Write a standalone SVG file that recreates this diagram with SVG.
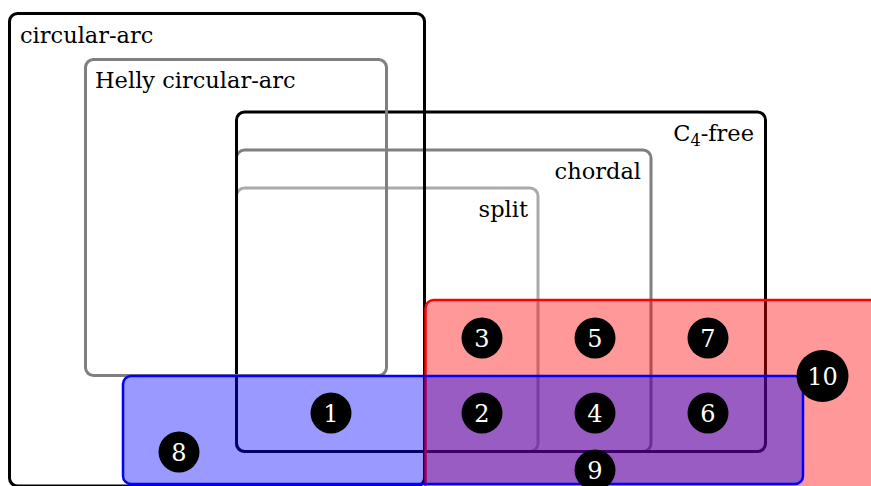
<svg xmlns="http://www.w3.org/2000/svg" width="871" height="486" viewBox="0 0 871 486">
<style>
.box{fill:none;stroke-width:3}
.blk{stroke:#000}
.gry{stroke:#808080}
.lgr{stroke:#aaaaaa}
.lbl{font-family:"DejaVu Serif","Liberation Serif",serif;font-size:22.5px;fill:#000}
.num circle{fill:#000}
.num text{font-family:"DejaVu Serif","Liberation Serif",serif;font-size:24px;fill:#fff;text-anchor:middle}
</style>
<rect width="871" height="486" fill="#fff"/>
<g id="split">
<rect class="box lgr" x="236.5" y="188" width="301.5" height="263.5" rx="8"/>
<text class="lbl" x="528" y="217" text-anchor="end">split</text>
</g>
<g id="chordal">
<rect class="box gry" x="236.5" y="150" width="414.5" height="301.5" rx="8"/>
<text class="lbl" x="641" y="179" text-anchor="end">chordal</text>
</g>
<g id="c4free">
<rect class="box blk" x="236.5" y="112" width="529" height="339.5" rx="8"/>
<text class="lbl" x="754" y="141" text-anchor="end">C<tspan font-size="16" dy="5">4</tspan><tspan dy="-5">-free</tspan></text>
</g>
<g id="helly">
<rect class="box gry" x="85.5" y="59.5" width="301" height="316" rx="8"/>
<text class="lbl" x="95" y="88">Helly circular-arc</text>
</g>
<g id="circular-arc">
<rect class="box blk" x="9.5" y="13.5" width="415" height="472.5" rx="8"/>
<text class="lbl" x="20" y="43">circular-arc</text>
</g>
<g id="red-set">
<rect x="425.5" y="300" width="470" height="220" rx="8" fill="#ff0000" fill-opacity="0.4" stroke="#ff0000" stroke-width="2.5"/>
</g>
<g id="blue-set">
<rect x="123" y="376" width="680" height="108" rx="8" fill="#0000ff" fill-opacity="0.4" stroke="#0000ff" stroke-width="2.5"/>
</g>
<g id="connectors"></g>
<g id="n1" class="num"><circle cx="331" cy="413" r="20.5"/><text x="331" y="421.5">1</text></g>
<g id="n2" class="num"><circle cx="482" cy="413" r="20.5"/><text x="482" y="421.5">2</text></g>
<g id="n3" class="num"><circle cx="482" cy="338" r="20.5"/><text x="482" y="346.5">3</text></g>
<g id="n4" class="num"><circle cx="595" cy="413" r="20.5"/><text x="595" y="421.5">4</text></g>
<g id="n5" class="num"><circle cx="595" cy="338" r="20.5"/><text x="595" y="346.5">5</text></g>
<g id="n6" class="num"><circle cx="708" cy="413" r="20.5"/><text x="708" y="421.5">6</text></g>
<g id="n7" class="num"><circle cx="708" cy="338" r="20.5"/><text x="708" y="346.5">7</text></g>
<g id="n8" class="num"><circle cx="179" cy="452" r="20.5"/><text x="179" y="460.5">8</text></g>
<g id="n9" class="num"><circle cx="595" cy="470" r="20.5"/><text x="595" y="478.5">9</text></g>
<g id="n10" class="num"><circle cx="822.5" cy="376" r="26"/><text x="822.5" y="384.5">10</text></g>
</svg>
